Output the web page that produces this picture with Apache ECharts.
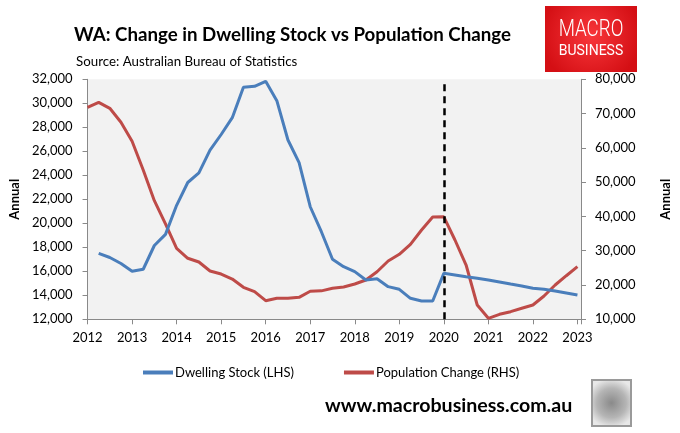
<!DOCTYPE html>
<html>
<head>
<meta charset="utf-8">
<script src="https://cdn.jsdelivr.net/npm/echarts@6/dist/echarts.min.js"></script>
<style>
  html, body { margin: 0; padding: 0; background: #fff; }
  #chart { width: 680px; height: 433px; }
</style>
</head>
<body>
<div id="chart"></div>
<script>
// quarterly observations, 2012 Q1 .. 2023 Q1
var quarters = [
  '2012-Q1','2012-Q2','2012-Q3','2012-Q4',
  '2013-Q1','2013-Q2','2013-Q3','2013-Q4',
  '2014-Q1','2014-Q2','2014-Q3','2014-Q4',
  '2015-Q1','2015-Q2','2015-Q3','2015-Q4',
  '2016-Q1','2016-Q2','2016-Q3','2016-Q4',
  '2017-Q1','2017-Q2','2017-Q3','2017-Q4',
  '2018-Q1','2018-Q2','2018-Q3','2018-Q4',
  '2019-Q1','2019-Q2','2019-Q3','2019-Q4',
  '2020-Q1','2020-Q2','2020-Q3','2020-Q4',
  '2021-Q1','2021-Q2','2021-Q3','2021-Q4',
  '2022-Q1','2022-Q2','2022-Q3','2022-Q4',
  '2023-Q1'
];

// Dwelling Stock (LHS)
var dwellingStock = [
  null, 17500, 17150, 16650,
  16000, 16170, 18150, 19080,
  21500, 23400, 24200, 26100,
  27400, 28800, 31330, 31420,
  31830, 30220, 26940, 25050,
  21380, 19300, 17000, 16380,
  15970, 15280, 15380, 14720,
  14500, 13750, 13520, 13520,
  15830, 15700, 15550, 15420,
  15280, 15110, 14940, 14780,
  14580, 14500, 14360, 14190,
  14020
];

// Population Change (RHS)
var populationChange = [
  71830, 73290, 71540, 67460,
  61920, 53550, 44600, 37850,
  30700, 27800, 26700, 24100,
  23200, 21750, 19330, 18050,
  15430, 16120, 16120, 16410,
  18170, 18300, 19040, 19420,
  20300, 21460, 23880, 27000,
  28960, 31870, 36040, 39830,
  39880, 33130, 25830, 14170,
  10290, 11460, 12220, 13210,
  14170, 16800, 20000, 22710,
  25340
];

var years = [2012, 2013, 2014, 2015, 2016, 2017, 2018, 2019, 2020, 2021, 2022, 2023];
var markerYear = 2020;

var FONT = 'Lato, "Noto Sans", sans-serif';

function toYear(q) {
  var p = q.split('-Q');
  return +p[0] + (+p[1] - 1) / 4;
}
function pairs(vals) {
  return quarters.map(function (q, i) { return [toYear(q), vals[i]]; });
}

var chart = echarts.init(document.getElementById('chart'));

var axisGray = '#898989';

chart.setOption({
  backgroundColor: '#fff',
  animation: false,
  textStyle: { fontFamily: FONT },
  title: [{
    text: 'WA: Change in Dwelling Stock vs Population Change',
    left: 69, top: 20,
    textStyle: { fontFamily: FONT, fontSize: 18.7, fontWeight: 'bold', color: '#000' }
  }, {
    text: 'Source: Australian Bureau of Statistics',
    left: 71, top: 50,
    textStyle: { fontFamily: FONT, fontSize: 13.3, fontWeight: 'normal', color: '#000' }
  }],
  legend: {
    left: 138, top: 361,
    itemWidth: 30, itemHeight: 4, itemGap: 50,
    icon: 'rect',
    textStyle: { fontFamily: FONT, fontSize: 13, color: '#000', padding: [0, 0, 0, -3] },
    data: ['Dwelling Stock (LHS)', 'Population Change (RHS)']
  },
  grid: {
    left: 80.7, right: 95.7, top: 79.3, bottom: 113.7,
    show: true, backgroundColor: '#f2f2f2', borderWidth: 0
  },
  xAxis: {
    type: 'value',
    min: years[0], max: 2023.08, interval: 1,
    axisLine: { show: true, lineStyle: { color: axisGray, width: 1 } },
    axisTick: { show: true, inside: false, length: 5, lineStyle: { color: axisGray } },
    splitLine: { show: false },
    axisLabel: {
      margin: 12, fontSize: 13, color: '#000', fontFamily: FONT,
      formatter: function (v) { return years.indexOf(v) >= 0 ? String(v) : ''; }
    }
  },
  yAxis: [{
    type: 'value',
    min: 12000, max: 32000, interval: 2000,
    name: 'Annual', nameLocation: 'middle', nameRotate: 90, nameGap: 60,
    nameTextStyle: { fontFamily: FONT, fontSize: 13, fontWeight: 'bold', color: '#000' },
    axisLine: { show: true, lineStyle: { color: axisGray } },
    axisTick: { show: true, length: 5, lineStyle: { color: axisGray } },
    splitLine: { show: false },
    axisLabel: {
      margin: 15, fontSize: 13, color: '#000', fontFamily: FONT,
      formatter: function (v) { return v.toLocaleString('en-US'); }
    }
  }, {
    type: 'value',
    min: 10000, max: 80000, interval: 10000,
    position: 'right',
    name: 'Annual', nameLocation: 'middle', nameRotate: 90, nameGap: 78,
    nameTextStyle: { fontFamily: FONT, fontSize: 13, fontWeight: 'bold', color: '#000' },
    axisLine: { show: true, lineStyle: { color: axisGray } },
    axisTick: { show: true, length: 5, lineStyle: { color: axisGray } },
    splitLine: { show: false },
    axisLabel: {
      margin: 14, fontSize: 13, color: '#000', fontFamily: FONT,
      formatter: function (v) { return v.toLocaleString('en-US'); }
    }
  }],
  series: [{
    name: 'Dwelling Stock (LHS)',
    type: 'line',
    yAxisIndex: 0,
    data: pairs(dwellingStock),
    showSymbol: false, symbol: 'none',
    connectNulls: false,
    lineStyle: { color: '#4a7ebb', width: 3 },
    itemStyle: { color: '#4a7ebb' },
    markLine: {
      silent: true,
      symbol: ['none', 'none'],
      label: { show: false },
      lineStyle: { color: '#000', type: [7, 5], width: 2.5 },
      data: [{ xAxis: markerYear }]
    },
    z: 3
  }, {
    name: 'Population Change (RHS)',
    type: 'line',
    yAxisIndex: 1,
    data: pairs(populationChange),
    showSymbol: false, symbol: 'none',
    lineStyle: { color: '#be4b48', width: 3 },
    itemStyle: { color: '#be4b48' },
    z: 2
  }],
  graphic: [{
    type: 'rect',
    shape: { x: 545, y: 6, width: 92, height: 66 },
    style: {
      fill: new echarts.graphic.RadialGradient(0.5, 0.45, 0.75, [
        { offset: 0, color: '#f8363a' },
        { offset: 1, color: '#d40f14' }
      ])
    }
  }, {
    type: 'text',
    x: 591, y: 30,
    scaleX: 0.78,
    style: {
      text: 'MACRO', fill: '#fff', align: 'center', verticalAlign: 'middle',
      font: '300 24px Roboto, sans-serif'
    }
  }, {
    type: 'text',
    x: 591, y: 51,
    style: {
      text: 'BUSINESS', fill: '#fff', align: 'center', verticalAlign: 'middle',
      font: '400 14px Roboto, sans-serif'
    }
  }, {
    type: 'text',
    x: 325, y: 406,
    style: {
      text: 'www.macrobusiness.com.au', fill: '#000', align: 'left', verticalAlign: 'middle',
      font: 'bold 19.6px Lato, "Noto Sans", sans-serif'
    }
  }, {
    type: 'rect',
    shape: { x: 592, y: 380, width: 39, height: 46 },
    style: {
      fill: new echarts.graphic.RadialGradient(0.5, 0.5, 0.6, [
        { offset: 0, color: '#8a8a8a' },
        { offset: 0.6, color: '#b5b5b5' },
        { offset: 1, color: '#e8e8e8' }
      ]),
      stroke: '#9a9a9a', lineWidth: 2
    }
  }]
});
</script>
</body>
</html>
